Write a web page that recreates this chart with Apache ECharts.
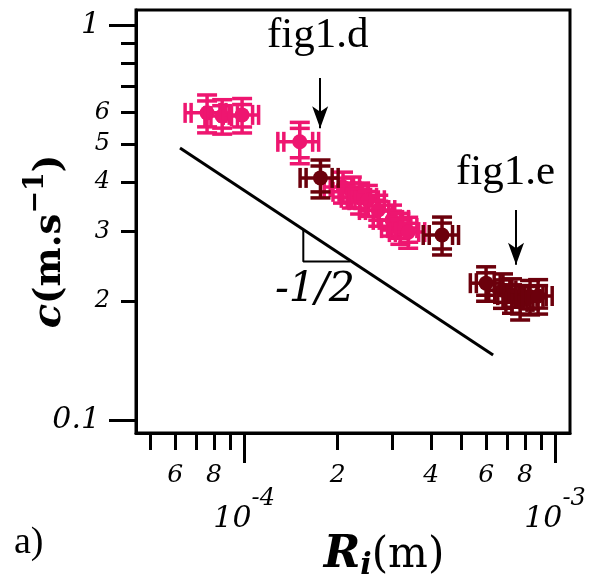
<!DOCTYPE html>
<html><head><meta charset="utf-8">
<script src="https://cdn.jsdelivr.net/npm/echarts@6/dist/echarts.min.js"></script>
<style>html,body{margin:0;padding:0;background:#fff}#c{width:594px;height:579px}</style>
</head><body><div id="c"></div>
<script>
// ---- data ----
const pinkX  = [7.60e-5, 8.50e-5, 9.85e-5, 1.51e-4, 2.08e-4, 2.22e-4, 2.36e-4, 2.50e-4, 2.70e-4, 2.99e-4, 3.18e-4, 3.37e-4];
const pinkY  = [0.599, 0.588, 0.592, 0.506, 0.389, 0.378, 0.365, 0.360, 0.340, 0.321, 0.306, 0.299];
const pinkEx = [0.15, 0.12, 0.13, 0.15, 0.13, 0.13, 0.13, 0.13, 0.13, 0.13, 0.13, 0.13];
const pinkEy = [0.11, 0.10, 0.10, 0.12, 0.09, 0.09, 0.09, 0.09, 0.09, 0.09, 0.09, 0.09];
const darkX  = [1.76e-4, 4.33e-4, 6.00e-4, 6.80e-4, 7.27e-4, 7.72e-4, 8.31e-4, 8.82e-4];
const darkY  = [0.410, 0.294, 0.222, 0.213, 0.207, 0.199, 0.205, 0.206];
const darkEx = [0.14, 0.13, 0.11, 0.10, 0.10, 0.10, 0.10, 0.11];
const darkEy = [0.11, 0.11, 0.10, 0.10, 0.10, 0.10, 0.10, 0.10];
const slopeLine = [[6.22e-5, 0.488], [6.32e-4, 0.146]];
const triangle  = [[1.55e-4, 0.303], [1.55e-4, 0.252], [2.19e-4, 0.252]];
const arrowD = [[1.756e-4, 0.734], [1.756e-4, 0.548]];
const arrowE = [[7.49e-4, 0.340], [7.49e-4, 0.247]];
const xMinorTicks  = [5e-5, 6e-5, 7e-5, 8e-5, 9e-5, 2e-4, 3e-4, 4e-4, 5e-4, 6e-4, 7e-4, 8e-4, 9e-4];
const xMinorLabels = [6e-5, 8e-5, 2e-4, 4e-4, 6e-4, 8e-4];
const xMajor = [1e-4, 1e-3];
const yMinorTicks  = [0.2, 0.3, 0.4, 0.5, 0.6, 0.7, 0.8, 0.9];
const yMinorLabels = [0.2, 0.3, 0.4, 0.5, 0.6];
const yMajor = [0.1, 1];
const xRange = [4.49e-5, 1.117e-3];
const yRange = [0.0927, 1.091];

const PINK = '#ee1670', DARK = '#6c000c', FONT = 'DejaVu Serif';

function zip(x, y, ex, ey) { return x.map((v, i) => [v, y[i], ex[i], ey[i]]); }
function mantissa(v) { const e = Math.floor(Math.log10(v) + 1e-9); return String(Math.round(v / Math.pow(10, e))); }
function majorX(v) { return '{b|10}{s|' + Math.round(Math.log10(v)) + '}'; }
function majorY(v) { return Math.round(Math.log10(v)) === 0 ? '1' : '0.1'; }

function errRender(color) {
  return function (params, api) {
    const x = api.value(0), y = api.value(1), ex = api.value(2), ey = api.value(3);
    const c = api.coord([x, y]);
    const l = api.coord([x * (1 - ex), y]), r = api.coord([x * (1 + ex), y]);
    const t = api.coord([x, y * (1 + ey)]), b = api.coord([x, y * (1 - ey)]);
    const cap = 10, g = 6, st = { stroke: color, lineWidth: 3.5 };
    const L = (x1, y1, x2, y2) => ({ type: 'line', shape: { x1, y1, x2, y2 }, style: st });
    return { type: 'group', children: [
      L(l[0], c[1], r[0], c[1]), L(c[0], t[1], c[0], b[1]),
      L(l[0], c[1] - cap, l[0], c[1] + cap), L(l[0] + g, c[1] - cap, l[0] + g, c[1] + cap),
      L(r[0], c[1] - cap, r[0], c[1] + cap), L(r[0] - g, c[1] - cap, r[0] - g, c[1] + cap),
      L(c[0] - cap, t[1], c[0] + cap, t[1]), L(c[0] - cap, t[1] + g, c[0] + cap, t[1] + g),
      L(c[0] - cap, b[1], c[0] + cap, b[1]), L(c[0] - cap, b[1] - g, c[0] + cap, b[1] - g),
      { type: 'circle', shape: { cx: c[0], cy: c[1], r: 7.5 }, style: { fill: color } }
    ]};
  };
}

const tickStyle = { color: '#000', width: 3 };
const lblBase = { fontFamily: FONT, fontStyle: 'italic', color: '#000' };

const option = {
  backgroundColor: '#fff',
  animation: false,
  grid: { left: 136, right: 24, top: 10, bottom: 146, show: true, borderColor: '#000', borderWidth: 3,
          backgroundColor: 'transparent', containLabel: false, outerBoundsMode: 'none' },
  xAxis: [
    { type: 'log', min: xRange[0], max: xRange[1], position: 'bottom',
      axisLine: { show: true, lineStyle: tickStyle },
      axisTick: { show: true, customValues: xMinorTicks, length: 17, lineStyle: tickStyle },
      axisLabel: Object.assign({ customValues: xMinorLabels, formatter: mantissa, margin: 30, fontSize: 25 }, lblBase),
      splitLine: { show: false },
      name: '{r|R}{i|i}{n|(m)}', nameLocation: 'middle', nameGap: 98,
      nameTextStyle: { padding: [0, 0, 0, 62], rich: {
        r: { fontFamily: FONT, fontStyle: 'italic', fontWeight: 'bold', fontSize: 44, lineHeight: 50, color: '#000' },
        i: { fontFamily: FONT, fontStyle: 'italic', fontWeight: 'bold', fontSize: 30, lineHeight: 30, verticalAlign: 'bottom', color: '#000' },
        n: { fontFamily: FONT, fontSize: 42, lineHeight: 50, color: '#000' } } } },
    { type: 'log', min: xRange[0], max: xRange[1], position: 'bottom',
      axisLine: { show: false },
      axisTick: { show: true, customValues: xMajor, length: 30, lineStyle: tickStyle },
      axisLabel: Object.assign({ customValues: xMajor, formatter: majorX, margin: 54, rich: {
        b: { fontFamily: FONT, fontStyle: 'italic', fontSize: 30, lineHeight: 64, color: '#000' },
        s: { fontFamily: FONT, fontStyle: 'italic', fontSize: 24, lineHeight: 24, verticalAlign: 'top', color: '#000' } } }, lblBase),
      splitLine: { show: false } }
  ],
  yAxis: [
    { type: 'log', min: yRange[0], max: yRange[1], position: 'left',
      axisLine: { show: true, lineStyle: tickStyle },
      axisTick: { show: true, customValues: yMinorTicks, length: 15, lineStyle: tickStyle },
      axisLabel: Object.assign({ customValues: yMinorLabels, formatter: mantissa, margin: 26, fontSize: 24 }, lblBase),
      splitLine: { show: false },
      name: '{c|c}{p|(m.s}{s|−1}{p|)}', nameLocation: 'middle', nameGap: 58, nameRotate: 90,
      nameTextStyle: { padding: [0, 40, 0, 0], rich: {
        c: { fontFamily: FONT, fontStyle: 'italic', fontWeight: 'bold', fontSize: 40, lineHeight: 56, color: '#000' },
        p: { fontFamily: FONT, fontWeight: 'bold', fontSize: 37, lineHeight: 56, color: '#000' },
        s: { fontFamily: FONT, fontWeight: 'bold', fontSize: 27, lineHeight: 27, verticalAlign: 'top', color: '#000' } } } },
    { type: 'log', min: yRange[0], max: yRange[1], position: 'left',
      axisLine: { show: false },
      axisTick: { show: true, customValues: yMajor, length: 27, lineStyle: tickStyle },
      axisLabel: Object.assign({ customValues: yMajor, formatter: majorY, margin: 36, fontSize: 30 }, lblBase),
      splitLine: { show: false } }
  ],
  series: [
    { name: 'slope', type: 'line', data: slopeLine, showSymbol: false, symbol: 'none', lineStyle: { color: '#000', width: 3 } },
    { name: 'triangle', type: 'line', data: triangle, showSymbol: false, symbol: 'none', lineStyle: { color: '#000', width: 2 },
      markLine: { silent: true, symbol: ['none', 'arrow'], symbolSize: [12, 22], label: { show: false },
        lineStyle: { color: '#000', width: 2, type: 'solid' },
        data: [[{ coord: arrowD[0] }, { coord: arrowD[1] }], [{ coord: arrowE[0] }, { coord: arrowE[1] }]] } },
    { name: 'pink', type: 'custom', data: zip(pinkX, pinkY, pinkEx, pinkEy), renderItem: errRender(PINK), encode: { x: 0, y: 1 } },
    { name: 'dark', type: 'custom', data: zip(darkX, darkY, darkEx, darkEy), renderItem: errRender(DARK), encode: { x: 0, y: 1 } }
  ],
  graphic: [
    { type: 'text', left: 267, top: 14, style: { text: 'fig1.d', font: '43px "Liberation Serif"', fill: '#000' } },
    { type: 'text', left: 456, top: 151, style: { text: 'fig1.e', font: '43px "Liberation Serif"', fill: '#000' } },
    { type: 'text', left: 275, top: 270, style: { text: '-1/2', font: 'italic 41px "DejaVu Serif"', fill: '#000' } },
    { type: 'text', left: 14, top: 524, style: { text: 'a)', font: '38px "Liberation Serif"', fill: '#000' } }
  ]
};
echarts.init(document.getElementById('c')).setOption(option);
</script></body></html>
